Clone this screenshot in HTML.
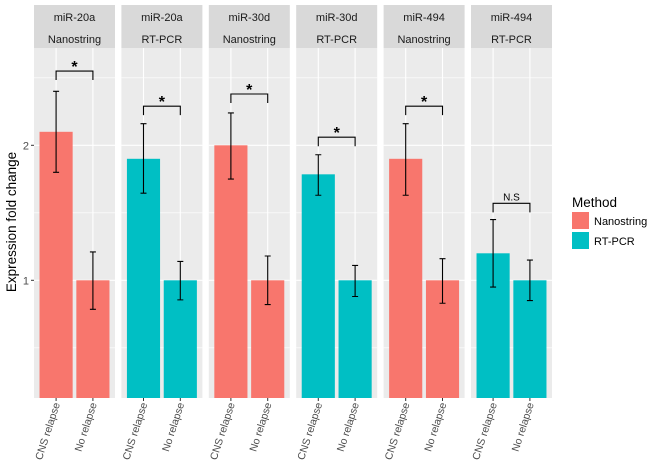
<!DOCTYPE html>
<html><head><meta charset="utf-8"><style>
html,body{margin:0;padding:0;background:#fff;}
svg{display:block;font-family:"Liberation Sans",Arial,sans-serif;}
</style></head><body>
<svg id="chart" width="650" height="471" viewBox="0 0 650 471"></svg>
<script>
const genes = ["miR-20a","miR-20a","miR-30d","miR-30d","miR-494","miR-494"];
const methods = ["Nanostring","RT-PCR","Nanostring","RT-PCR","Nanostring","RT-PCR"];
const groups = ["CNS relapse","No relapse"];
const cnsValues = [2.10,1.90,2.00,1.785,1.90,1.20];
const cnsUpper = [2.40,2.16,2.24,1.93,2.16,1.45];
const cnsLower = [1.80,1.645,1.75,1.63,1.63,0.95];
const noValues = [1.0,1.0,1.0,1.0,1.0,1.0];
const noUpper = [1.21,1.14,1.18,1.11,1.16,1.15];
const noLower = [0.785,0.855,0.82,0.88,0.83,0.85];
const bracketY = [2.55,2.29,2.38,2.06,2.29,1.57];
const sigLabels = ["*","*","*","*","*","N.S"];
const yTicks = [1,2];
const yMinor = [0.5,1.5,2.5];
const colors = {"Nanostring":"#F8766D","RT-PCR":"#00BFC4"};

const NS="http://www.w3.org/2000/svg";
const svg=document.getElementById('chart');
function el(tag,attrs,parent){const e=document.createElementNS(NS,tag);for(const k in attrs)e.setAttribute(k,attrs[k]);(parent||svg).appendChild(e);return e;}

const panelLeft0=34, panelStep=87.4, panelW=81, stripTop=5, plotTop=48, plotBottom=398;
const y=v=>280.3-(v-1)*135;
const xPos=(p,i)=>panelLeft0+p*panelStep+panelW*(0.6+i)/2.2;
const bw=panelW*0.9/2.2;

yTicks.forEach(t=>{
  const tl=el('line',{x1:31,x2:34,y1:y(t),y2:y(t),stroke:'#333','stroke-width':1});
  
  
  const tx=el('text',{x:29,y:y(t)+4,'text-anchor':'end','font-size':11,fill:'#4d4d4d'});
  tx.textContent=t;
  
  
});
const yt=el('text',{x:0,y:0,transform:'translate(16,222) rotate(-90)','text-anchor':'middle','font-size':13.5,fill:'#000'});
yt.textContent='Expression fold change';



for(let p=0;p<genes.length;p++){
  const px=panelLeft0+p*panelStep;
  const g=el('g',{});
  
  
  const strip=el('rect',{x:px,y:stripTop,width:panelW,height:plotTop-stripTop,fill:'#d9d9d9'},g);
  
  
  const s1=el('text',{x:px+panelW/2,y:21,'text-anchor':'middle','font-size':11,fill:'#1a1a1a'},g);
  s1.textContent=genes[p];
  
  
  const s2=el('text',{x:px+panelW/2,y:43,'text-anchor':'middle','font-size':11,fill:'#1a1a1a'},g);
  s2.textContent=methods[p];
  
  
  const bg=el('rect',{x:px,y:plotTop,width:panelW,height:plotBottom-plotTop,fill:'#ebebeb'},g);
  
  
  yMinor.forEach(t=>el('line',{x1:px,x2:px+panelW,y1:y(t),y2:y(t),stroke:'#fff','stroke-width':0.6},g));
  yTicks.forEach(t=>el('line',{x1:px,x2:px+panelW,y1:y(t),y2:y(t),stroke:'#fff','stroke-width':1.1},g));
  [0,1].forEach(i=>el('line',{x1:xPos(p,i),x2:xPos(p,i),y1:plotTop,y2:plotBottom,stroke:'#fff','stroke-width':1.1},g));
  const vals=[cnsValues[p],noValues[p]], up=[cnsUpper[p],noUpper[p]], lo=[cnsLower[p],noLower[p]];
  const c=colors[methods[p]];
  [0,1].forEach(i=>{
    const cx=xPos(p,i);
    const b=el('rect',{x:cx-bw/2,y:y(vals[i]),width:bw,height:plotBottom-y(vals[i]),fill:c},g);
    
    
    const eb=el('path',{d:`M${cx-3},${y(up[i])}H${cx+3}M${cx},${y(up[i])}V${y(lo[i])}M${cx-3},${y(lo[i])}H${cx+3}`,stroke:'#000','stroke-width':1.1,fill:'none'},g);
    
    
    el('line',{x1:cx,x2:cx,y1:plotBottom,y2:plotBottom+3,stroke:'#333'},g);
    const lt=el('text',{x:0,y:0,transform:`translate(${cx+4},${plotBottom+6}) rotate(-72)`,'text-anchor':'end','font-size':10.5,fill:'#4d4d4d'},g);
    lt.textContent=groups[i];
    
    
  });
  const by=y(bracketY[p]);
  const br=el('path',{d:`M${xPos(p,0)},${by+9}V${by}H${xPos(p,1)}V${by+9}`,stroke:'#000','stroke-width':1.1,fill:'none'},g);
  
  
  const isStar=sigLabels[p]==='*';
  const st=el('text',{x:(xPos(p,0)+xPos(p,1))/2,y:isStar?by+1:by-3,'text-anchor':'middle','font-size':isStar?16:10,'font-weight':isStar?'bold':'normal',fill:'#000'},g);
  st.textContent=sigLabels[p];
  
  
}

const lg=el('g',{});


const lt=el('text',{x:572,y:207,'font-size':13.5,fill:'#000'},lg);
lt.textContent='Method';


["Nanostring","RT-PCR"].forEach((m,i)=>{
  const k=el('rect',{x:572,y:212+i*20,width:17,height:17,fill:colors[m]},lg);
  
  
  const t=el('text',{x:594,y:225+i*20,'font-size':11,fill:'#000'},lg);
  t.textContent=m;
  
  
});
</script>
</body></html>
